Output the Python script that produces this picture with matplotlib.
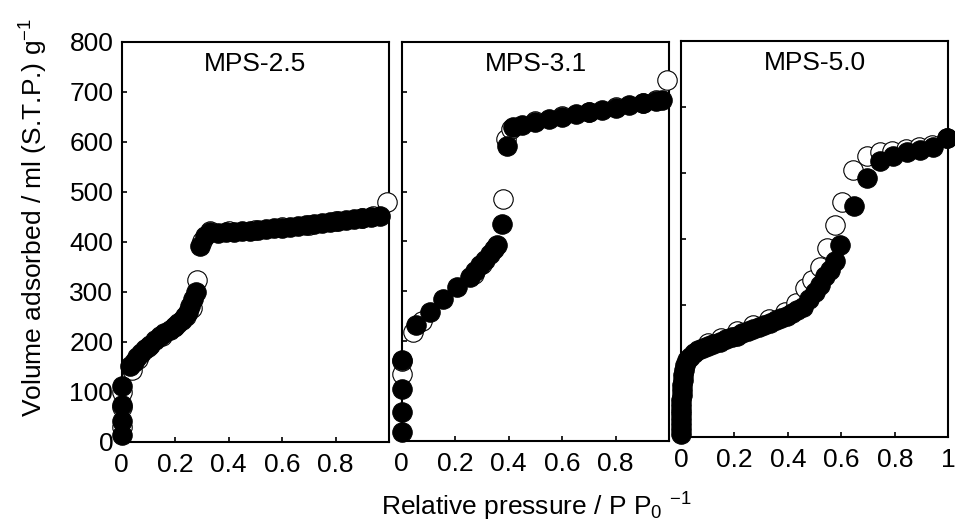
import matplotlib
matplotlib.use("Agg")
import matplotlib.pyplot as plt

plt.rcParams['font.family'] = ['Liberation Sans', 'DejaVu Sans']
plt.rcParams['mathtext.fontset'] = 'custom'
plt.rcParams['mathtext.rm'] = 'Liberation Sans'
plt.rcParams['mathtext.it'] = 'Liberation Sans'

# MPS-2.5 isotherm
p25_fill = [0.0, 0.0, 0.0, 0.0, 0.031, 0.045, 0.058, 0.072, 0.088, 0.106, 0.125, 0.143, 0.16, 0.18,
            0.195, 0.21, 0.225, 0.237, 0.248, 0.257, 0.266, 0.276, 0.293, 0.31, 0.33, 0.36, 0.39,
            0.42, 0.45, 0.48, 0.51, 0.54, 0.57, 0.60, 0.63, 0.66, 0.69, 0.72, 0.75, 0.78, 0.81,
            0.84, 0.87, 0.90, 0.93, 0.965]
v25_fill = [14, 41, 74, 111, 151, 160, 169, 178, 186, 194, 203, 211, 218, 224,
            230, 237, 244, 251, 260, 271, 285, 299, 391, 412, 419, 418, 419,
            420, 421, 422, 424, 425, 427, 428, 430, 431, 433, 435, 437, 439, 441,
            443, 445, 447, 449, 451]
p25_open = [0.0, 0.0, 0.0, 0.037, 0.06, 0.1, 0.15, 0.2, 0.24, 0.262, 0.283, 0.3, 0.33,
            0.4, 0.5, 0.6, 0.7, 0.8, 0.9, 0.94, 0.993]
v25_open = [30, 70, 100, 144, 165, 190, 212, 232, 252, 268, 324, 402, 422,
            421, 424, 429, 434, 441, 448, 452, 479]

# MPS-3.1 isotherm
p31_fill = [0.0, 0.0, 0.0, 0.0, 0.055, 0.106, 0.155, 0.205, 0.255, 0.275, 0.293, 0.31, 0.33,
            0.345, 0.355, 0.374, 0.395, 0.417, 0.45, 0.5, 0.55, 0.6, 0.65, 0.7, 0.75, 0.8,
            0.85, 0.9, 0.95, 0.972]
v31_fill = [19, 59, 105, 162, 232, 259, 285, 309, 329, 340, 352, 362, 375,
            385, 392, 435, 592, 629, 634, 640, 645, 650, 655, 659, 663, 668,
            673, 677, 681, 684]
p31_open = [0.0, 0.0, 0.043, 0.075, 0.27, 0.3, 0.377, 0.39, 0.41, 0.5, 0.6, 0.7, 0.8,
            0.9, 0.95, 0.99]
v31_open = [134, 160, 219, 240, 335, 355, 485, 605, 625, 641, 651, 660, 669,
            678, 683, 723]

# MPS-5.0 isotherm
p50_fill = [0.0, 0.0, 0.0, 0.0, 0.0, 0.0, 0.0, 0.0, 0.002, 0.003, 0.004, 0.006, 0.008, 0.011,
            0.015, 0.022, 0.034, 0.05, 0.065, 0.083, 0.1, 0.12, 0.146, 0.17, 0.19, 0.208,
            0.23, 0.25, 0.27, 0.29, 0.31, 0.333, 0.355, 0.375, 0.395, 0.415, 0.435, 0.457,
            0.48, 0.5, 0.52, 0.54, 0.557, 0.576, 0.595, 0.647, 0.695, 0.744, 0.794, 0.844,
            0.894, 0.944, 0.994]
v50_fill = [5, 15, 25, 35, 45, 55, 65, 75, 85, 95, 105, 115, 125, 135,
            145, 155, 162, 170, 175, 180, 184, 188, 192, 197, 201, 204,
            209, 213, 217, 221, 225, 230, 235, 240, 245, 251, 257, 263,
            278, 292, 307, 325, 338, 356, 388, 466, 523, 557, 567, 575,
            580, 585, 603]
p50_open = [0.1, 0.15, 0.21, 0.27, 0.33, 0.39, 0.43, 0.464, 0.489, 0.52, 0.545, 0.576,
            0.601, 0.645, 0.697, 0.744, 0.79, 0.84, 0.89, 0.94, 0.994]
v50_open = [190, 199, 213, 225, 238, 252, 270, 300, 317, 344, 381, 428,
            475, 539, 568, 576, 578, 581, 585, 590, 603]

names = ['MPS-2.5', 'MPS-3.1', 'MPS-5.0']
fills = [(p25_fill, v25_fill), (p31_fill, v31_fill), (p50_fill, v50_fill)]
opens = [(p25_open, v25_open), (p31_open, v31_open), (p50_open, v50_open)]

# axes rectangles in figure fractions
rects = [[0.1274, 0.1549, 0.2802, 0.7648],
         [0.4206, 0.1568, 0.2802, 0.7630],
         [0.7131, 0.1650, 0.2799, 0.7566]]
yticks_list = [[0, 100, 200, 300, 400, 500, 600, 700, 800],
               [100, 200, 300, 400, 500, 600, 700],
               [133.3, 266.7, 400, 533.3, 666.7]]
xticks_list = [[0, 0.2, 0.4, 0.6, 0.8],
               [0, 0.2, 0.4, 0.6, 0.8],
               [0, 0.2, 0.4, 0.6, 0.8, 1]]
xticklabels_list = [['0', '0.2', '0.4', '0.6', '0.8'],
                    ['0', '0.2', '0.4', '0.6', '0.8'],
                    ['0', '0.2', '0.4', '0.6', '0.8', '1']]

fig = plt.figure(figsize=(9.55, 5.23), dpi=100)

for i in range(3):
    ax = fig.add_axes(rects[i])
    ax.set_xlim(0, 1)
    ax.set_ylim(0, 800)
    ax.plot(opens[i][0], opens[i][1], 'o', ms=14, mfc='white', mec='black', mew=0.8,
            clip_on=False, zorder=3)
    ax.plot(fills[i][0], fills[i][1], 'o', ms=14, mfc='black', mec='black', mew=0.8,
            clip_on=False, zorder=4)
    for s in ax.spines.values():
        s.set_linewidth(1.5)
        s.set_zorder(2)
    ax.set_xticks(xticks_list[i])
    ax.set_xticklabels(xticklabels_list[i])
    ax.set_yticks(yticks_list[i])
    if i == 0:
        ax.set_yticklabels([str(v) for v in yticks_list[i]])
    else:
        ax.set_yticklabels([])
    ax.tick_params(direction='in', length=3.5, width=1.2, labelsize=19, pad=8)
    ax.tick_params(axis='y', pad=6)
    ax.text(0.5, 0.945, names[i], transform=ax.transAxes, ha='center', va='center',
            fontsize=19)

fig.text(0.035, 0.584, 'Volume adsorbed / ml (S.T.P.) g$^{-1}$', rotation=90,
         ha='center', va='center', fontsize=19)
fig.text(0.562, 0.031, 'Relative pressure / P P$_0$ $^{-1}$', ha='center', va='center',
         fontsize=19)

fig.savefig('out.png', dpi=100)
